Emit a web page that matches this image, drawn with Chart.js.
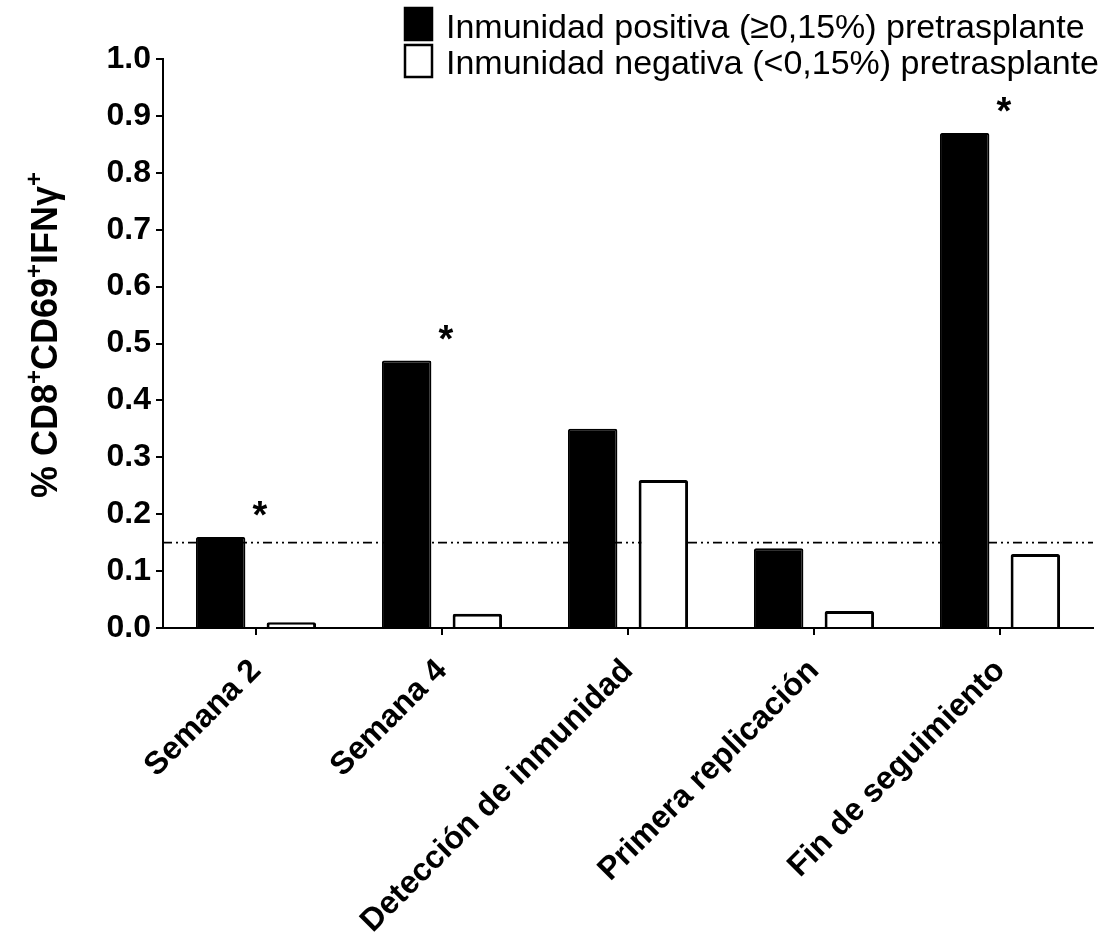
<!DOCTYPE html>
<html>
<head>
<meta charset="utf-8">
<script src="https://cdn.jsdelivr.net/npm/chart.js@4"></script>
<style>
    html, body { margin: 0; padding: 0; background: #fff; }
</style>
</head>
<body>
<canvas id="myChart" width="1107" height="937"></canvas>
<script>
var categories = ["Semana 2", "Semana 4", "Detección de inmunidad", "Primera replicación", "Fin de seguimiento"];
var positiveValues = [0.16, 0.47, 0.35, 0.14, 0.87];
var negativeValues = [0.01, 0.025, 0.26, 0.03, 0.13];
// asterisk above the group
var significant = [true, true, false, false, true];
var seriesLabels = ["Inmunidad positiva (\u22650,15%) pretrasplante", "Inmunidad negativa (<0,15%) pretrasplante"];
var threshold = 0.15;
var yMin = 0, yMax = 1.0, yStep = 0.1;

var FONT = '"Liberation Sans", Arial, sans-serif';
Chart.defaults.color = "#000";
Chart.defaults.font.family = FONT;

const canvas = document.getElementById("myChart");
const ctx = canvas.getContext("2d");

var extras = {
    id: "extras",
    beforeDatasetsDraw: function(chart) {
        let c = chart.ctx, area = chart.chartArea;
        let y = chart.scales.y.getPixelForValue(threshold);
        c.save();
        c.strokeStyle = "#000";
        c.lineWidth = 1.7;
        c.setLineDash([9, 4, 2, 4, 2, 4]);
        c.beginPath();
        c.moveTo(area.left, y);
        c.lineTo(area.right, y);
        c.stroke();
        c.restore();
    },
    afterDatasetsDraw: function(chart) {
        let c = chart.ctx;
        let bars = chart.getDatasetMeta(0).data;
        c.save();
        c.fillStyle = "#000";
        c.font = "bold 38px " + FONT;
        c.textAlign = "center";
        c.textBaseline = "alphabetic";
        for (let i = 0; i < significant.length; i++) {
            if (!significant[i]) continue;
            let x = chart.scales.x.getPixelForValue(i) + 4;
            c.fillText("*", x, bars[i].y - 9);
        }
        c.restore();
    },
    afterDraw: function(chart) {
        let c = chart.ctx;
        c.save();
        // legend
        let ds = chart.data.datasets;
        for (let i = 0; i < ds.length; i++) {
            let top = 7 + i * 37;
            c.fillStyle = ds[i].backgroundColor;
            c.fillRect(404, top, 29, 34);
            c.strokeStyle = "#000";
            c.lineWidth = 2.5;
            c.strokeRect(405, top + 1, 27, 32);
            c.fillStyle = "#000";
            c.font = "34px " + FONT;
            c.textAlign = "left";
            c.textBaseline = "alphabetic";
            c.fillText(ds[i].label, 446, 38 + i * 36);
        }
        // y axis title with superscripts
        let parts = [["% CD8", false], ["+", true], ["CD69", false], ["+", true], ["IFN\u03b3", false], ["+", true]];
        let big = "bold 36px " + FONT, small = "bold 24px " + FONT;
        let total = 0;
        parts.forEach(function(p) {
            c.font = p[1] ? small : big;
            total += c.measureText(p[0]).width;
        });
        c.translate(57, 335);
        c.rotate(-Math.PI / 2);
        let x = -total / 2;
        parts.forEach(function(p) {
            c.font = p[1] ? small : big;
            c.fillText(p[0], x, p[1] ? -15 : 0);
            x += c.measureText(p[0]).width;
        });
        c.restore();
    }
};

new Chart(ctx, {
    type: "bar",
    data: {
        labels: categories,
        datasets: [{
            label: seriesLabels[0],
            data: positiveValues,
            backgroundColor: "#000",
            borderColor: "#000",
            borderWidth: 2,
            borderRadius: 2,
            categoryPercentage: 0.76,
            barPercentage: 0.7
        }, {
            label: seriesLabels[1],
            data: negativeValues,
            backgroundColor: "#fff",
            borderColor: "#000",
            borderWidth: 3,
            borderRadius: 2,
            categoryPercentage: 0.76,
            barPercentage: 0.7
        }]
    },
    options: {
        responsive: false,
        animation: false,
        layout: {
            padding: { top: 59, right: 14, left: 0, bottom: 0 }
        },
        scales: {
            x: {
                afterFit: function(scale) { scale.height = 309; },
                border: { color: "#000", width: 2 },
                grid: {
                    offset: false,
                    drawOnChartArea: false,
                    tickLength: 7,
                    color: "#000",
                    lineWidth: 2
                },
                ticks: {
                    autoSkip: false,
                    maxRotation: 45,
                    minRotation: 45,
                    padding: 17,
                    color: "#000",
                    font: { size: 32, weight: "bold" }
                }
            },
            y: {
                min: yMin,
                max: yMax,
                afterFit: function(scale) { scale.width = 163; },
                border: { color: "#000", width: 2 },
                grid: {
                    drawOnChartArea: false,
                    tickLength: 7,
                    color: "#000",
                    lineWidth: 2
                },
                ticks: {
                    stepSize: yStep,
                    padding: 5,
                    color: "#000",
                    font: { size: 32, weight: "bold" },
                    callback: function(v) { return v.toFixed(1); }
                }
            }
        },
        plugins: {
            legend: { display: false },
            tooltip: { enabled: false }
        }
    },
    plugins: [extras]
});
</script>
</body>
</html>
